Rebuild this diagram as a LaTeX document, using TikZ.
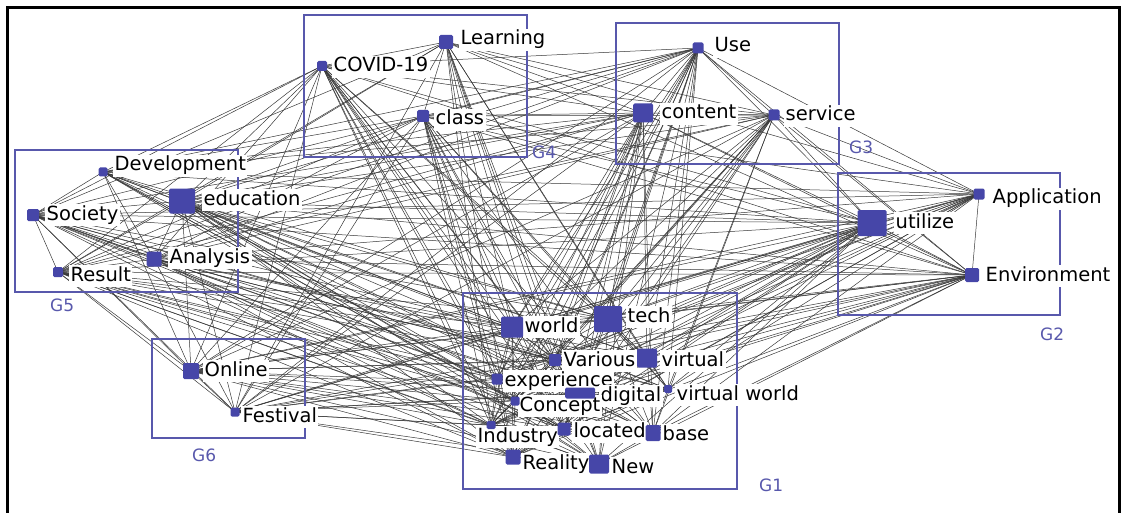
\documentclass[tikz,border=0pt]{standalone}
\usepackage{fontspec}
\setmainfont{DejaVu Sans}
\definecolor{nodeblue}{RGB}{70,70,168}
\definecolor{grpblue}{RGB}{88,88,172}
\pgfdeclarelayer{edges}
\pgfsetlayers{edges,main}
\begin{document}
\begin{tikzpicture}[x=1pt,y=-1pt,
  sq/.style={fill=nodeblue,draw=none,rounded corners=1.5pt,inner sep=0pt,outer sep=0pt},
  lbl/.style={font=\fontsize{19.5}{19.5}\selectfont,fill=white,inner xsep=1.5pt,inner ysep=2pt,
              text height=14pt,text depth=4pt,anchor=base west},
  glbl/.style={font=\fontsize{17}{17}\selectfont,text=grpblue,inner sep=0pt,anchor=west},
  grp/.style={draw=grpblue,line width=2pt},
  edge/.style={draw=black!78,line width=0.5pt}]
\useasboundingbox (0,0) rectangle (1123,513);

% group boxes
\draw[grp] (304,15) rectangle (527,157);
\draw[grp] (616,23) rectangle (839,164);
\draw[grp] (15,150) rectangle (238,292);
\draw[grp] (838,173) rectangle (1060,315);
\draw[grp] (152,339) rectangle (305,438);
\draw[grp] (463,293) rectangle (737,489);
\node[glbl] (g4) at (532,152) {G4};
\node[glbl] (g3) at (849,147) {G3};
\node[glbl] (g5) at (50,305) {G5};
\node[glbl] (g2) at (1040,334) {G2};
\node[glbl] (g6) at (192,455) {G6};
\node[glbl] (g1) at (759,485) {G1};

% labels
\foreach \n/\x/\y/\t in {
  1/459/39/Learning, 2/332/66/COVID-19, 3/434/119/class, 4/713/46/Use,
  5/660/113/content, 6/784/115/service, 7/113/165/Development,
  8/202/199/education, 9/45/214/Society, 10/168/257/Analysis,
  11/69/275/Result, 12/991/198/Application, 13/894/222/utilize,
  14/984/275/Environment, 15/523/326/world, 16/626/316/tech,
  17/562/360/Various, 18/660/360/virtual, 19/503/380/experience,
  20/599/395/digital, 21/675/394/virtual world, 22/518/405/Concept,
  23/476/436/Industry, 24/572/431/located, 25/661/434/base,
  26/521/463/Reality, 27/610/467/New, 28/203/370/Online, 29/241/416/Festival}
  \node[lbl] (l\n) at (\x,\y+6) {\t};

% nodes (squares)
\foreach \n/\x/\y/\w/\h in {
  1/446/42/14pt/14pt, 2/322/66/10pt/10pt, 3/423/116/12pt/12pt,
  4/698/48/11pt/11pt, 5/643/113/20pt/19pt, 6/774/115/11pt/11pt,
  7/103/172/9pt/9pt, 8/182/201/26pt/25pt, 9/33/215/12pt/12pt,
  10/154/259/15pt/15pt, 11/58/272/10pt/10pt, 12/979/194/11pt/11pt,
  13/872/223/29pt/26pt, 14/972/275/14pt/14pt, 15/512/327/22pt/21pt,
  16/608/319/28pt/26pt, 17/555/360/12pt/12pt, 18/647/358/20pt/19pt,
  19/497/379/11pt/11pt, 20/580/393/30pt/11pt, 21/668/389/8pt/8pt,
  22/515/401/9pt/9pt, 23/491/425/9pt/8pt, 24/564/429/13pt/13pt,
  25/653/433/15pt/16pt, 26/513/457/15pt/15pt, 27/599/464/20pt/19pt,
  28/191/371/16pt/16pt, 29/235/412/9pt/9pt}
  \node[sq,minimum width=\w,minimum height=\h] (n\n) at (\x,\y) {};

% connectors
\begin{pgfonlayer}{edges}
\foreach \i in {1,...,28}{
  \pgfmathtruncatemacro{\s}{\i+1}
  \foreach \j in {\s,...,29}{
    \pgfmathtruncatemacro{\h}{mod(\i*\j+3*\i+5*\j,9)}
    \ifnum\h>0\relax \draw[edge] (n\i.center) -- (n\j.center);\fi
  }
}
\end{pgfonlayer}

% frame
\draw[line width=3pt,black] (7.5,514) -- (7.5,7.5) -- (1119.5,7.5) -- (1119.5,514);
\end{tikzpicture}
\end{document}
